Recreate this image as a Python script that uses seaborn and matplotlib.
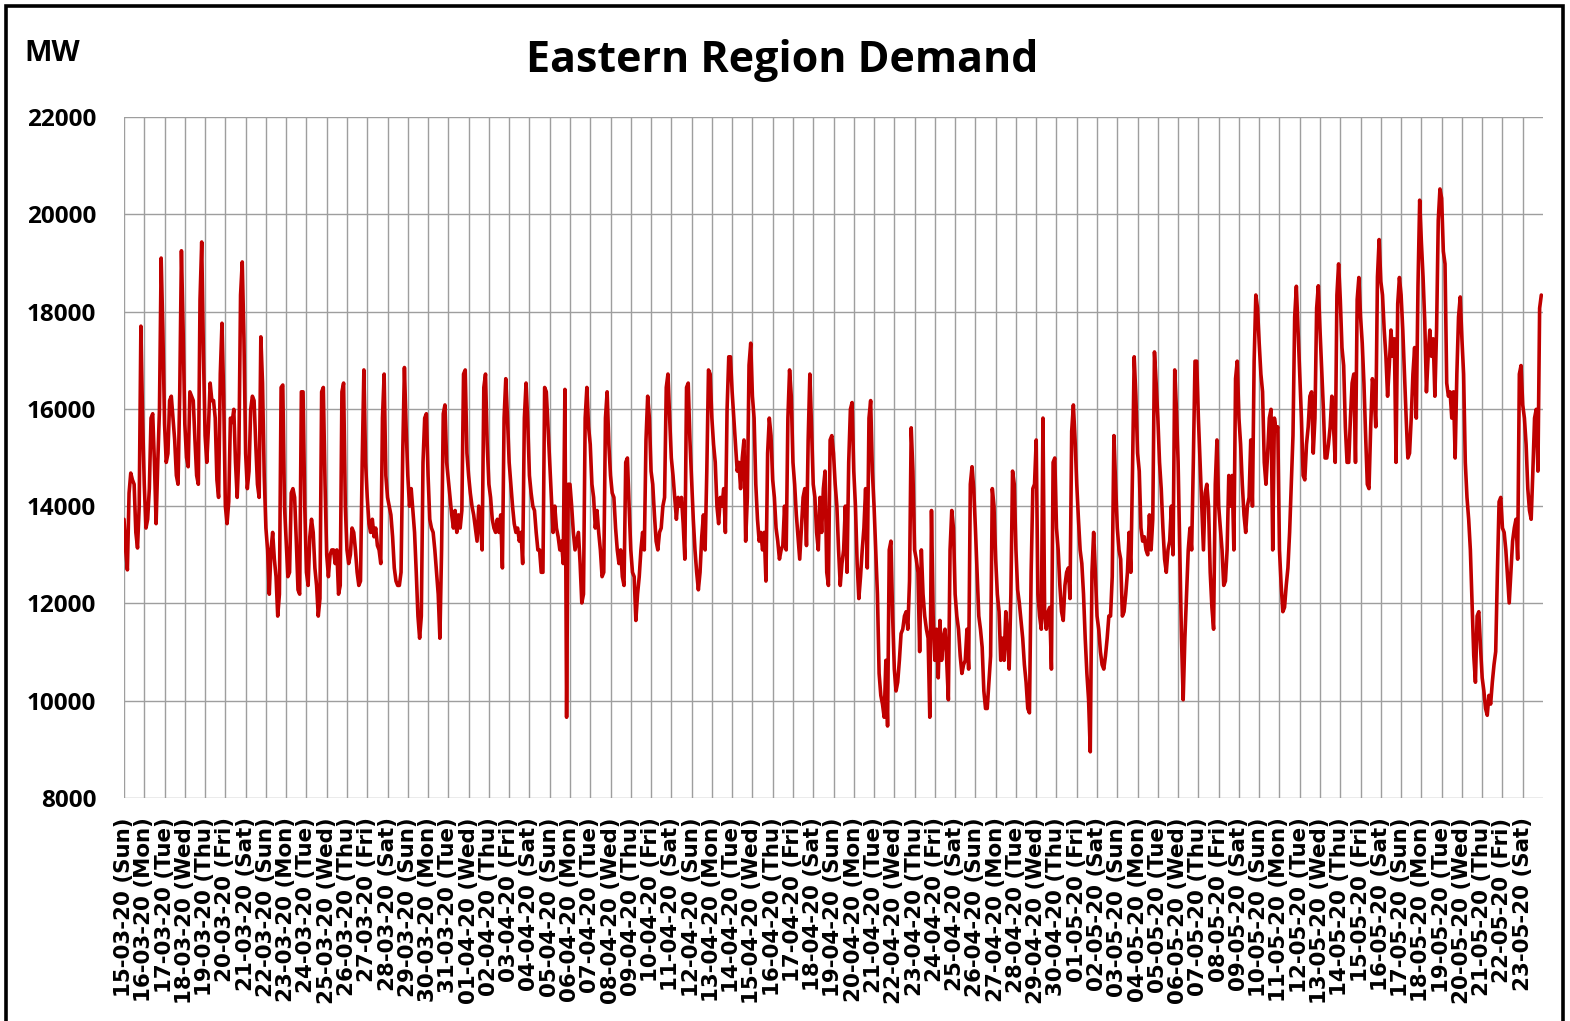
import numpy as np
import pandas as pd
import matplotlib
matplotlib.use("Agg")
import matplotlib.pyplot as plt
from matplotlib.patches import Rectangle
import seaborn as sns

# Eastern Region demand (MW), every 2 hours (12 readings per day)
# 15-03-20 .. 31-03-20
march_mw = [
    [13730, 13100, 12690, 14270, 14680, 14540, 14450, 13460, 13140, 14000, 17700, 15810],
    [14450, 13550, 13730, 14360, 15810, 15900, 14900, 13640, 14900, 15990, 19100, 17620],
    [15690, 14900, 15080, 16170, 16260, 15810, 15360, 14630, 14450, 16350, 19250, 17620],
    [15690, 15000, 14810, 16350, 16260, 16170, 15360, 14630, 14450, 18250, 19430, 17170],
    [15450, 14900, 15630, 16530, 16170, 16170, 15810, 14540, 14180, 16720, 17760, 16260],
    [14000, 13640, 14090, 15810, 15720, 15990, 14900, 14180, 15080, 18340, 19020, 17440],
    [15080, 14360, 14720, 15990, 16260, 16170, 15270, 14450, 14180, 17480, 16530, 14630],
    [13550, 13100, 12190, 13100, 13460, 12910, 12550, 11740, 12190, 16440, 16490, 14000],
    [13280, 12550, 12640, 14270, 14360, 14180, 13280, 12280, 12190, 16350, 16350, 14000],
    [12640, 12370, 13370, 13730, 13460, 12730, 12370, 11740, 12100, 16350, 16440, 14450],
    [13000, 12550, 13000, 13100, 13100, 12820, 13100, 12190, 12370, 16350, 16530, 14000],
    [13100, 12820, 13000, 13550, 13460, 13100, 12640, 12370, 12460, 14900, 16800, 14900],
    [14180, 13640, 13460, 13730, 13370, 13550, 13190, 13100, 12820, 15810, 16715, 14630],
    [14180, 14000, 13820, 13370, 12730, 12460, 12370, 12370, 12640, 15090, 16850, 15630],
    [14630, 14000, 14360, 13910, 13460, 12640, 11740, 11285, 11740, 14900, 15810, 15900],
    [14630, 13730, 13550, 13460, 13100, 12640, 12190, 11285, 13100, 15900, 16080, 14900],
    [14540, 14180, 13820, 13550, 13910, 13460, 13820, 13550, 13910, 16715, 16800, 15090],
]
# 01-04-20 .. 30-04-20
april_mw = [
    [14630, 14270, 14000, 13820, 13550, 13280, 14000, 13640, 13100, 16440, 16715, 15270],
    [14450, 14180, 13730, 13550, 13460, 13730, 13460, 13820, 12730, 15810, 16620, 15810],
    [14900, 14450, 14000, 13640, 13460, 13550, 13280, 13460, 12820, 15810, 16530, 15720],
    [14630, 14270, 14000, 13910, 13460, 13100, 13100, 12640, 12640, 16440, 16350, 15630],
    [14900, 14180, 13460, 14000, 13550, 13370, 13100, 13280, 12820, 16400, 9660, 14450],
    [14450, 14000, 13460, 13100, 13280, 13460, 12820, 12010, 12190, 15810, 16440, 15630],
    [15270, 14450, 14180, 13550, 13910, 13460, 13100, 12550, 12640, 15810, 16350, 15270],
    [14630, 14270, 14180, 13550, 13100, 12820, 13100, 12550, 12370, 14900, 14990, 14000],
    [13100, 12640, 12550, 11650, 12190, 12550, 13100, 13460, 13100, 15360, 16260, 15810],
    [14720, 14450, 13820, 13280, 13100, 13460, 13550, 14000, 14180, 16440, 16715, 15810],
    [14990, 14630, 14180, 13730, 14180, 14000, 14180, 13640, 12910, 16440, 16530, 15360],
    [14540, 13730, 13100, 12640, 12280, 12640, 13370, 13820, 13100, 14720, 16800, 16715],
    [15810, 15270, 14900, 14000, 13640, 14180, 14000, 14360, 13460, 15990, 17070, 17070],
    [16350, 15810, 15270, 14720, 14900, 14360, 14990, 15360, 13280, 14180, 16900, 17350],
    [16260, 15810, 14450, 13730, 13280, 13460, 13100, 13460, 12460, 15090, 15810, 15450],
    [14540, 14180, 13550, 13280, 12910, 13100, 13190, 14000, 13100, 15810, 16800, 16260],
    [14900, 14450, 13820, 13370, 12910, 13550, 14180, 14360, 13190, 15360, 16715, 15630],
    [14450, 14180, 13460, 13100, 14180, 13460, 14360, 14720, 12640, 12370, 15360, 15450],
    [15090, 14450, 14000, 13100, 12370, 12820, 13100, 14000, 12640, 14900, 15990, 16130],
    [14720, 14000, 12820, 12100, 12550, 13100, 13550, 14360, 12730, 15810, 16170, 14720],
    [14000, 13100, 12190, 10560, 10110, 9930, 9660, 10830, 9480, 13100, 13280, 11740],
    [10650, 10200, 10380, 10830, 11380, 11470, 11740, 11830, 11470, 12460, 15610, 14720],
    [13100, 12910, 12640, 11010, 13100, 12190, 11740, 11470, 11285, 9660, 13910, 11740],
    [10830, 11470, 10470, 11650, 10830, 11285, 11470, 10830, 10020, 13100, 13910, 13550],
    [12190, 11740, 11470, 10920, 10560, 10740, 10830, 11470, 10650, 14450, 14810, 14360],
    [13550, 12640, 11740, 11470, 11100, 10200, 9840, 9840, 10380, 10920, 14360, 14000],
    [12910, 12190, 11830, 10830, 11285, 10830, 11830, 11285, 10650, 12190, 14720, 14450],
    [13100, 12280, 12010, 11650, 11285, 10740, 10380, 9840, 9750, 12640, 14360, 14450],
    [15360, 12190, 11740, 11470, 15810, 11740, 11470, 11830, 11920, 10650, 14900, 14990],
    [13550, 13100, 12370, 11830, 11650, 12370, 12640, 12730, 12100, 15540, 16080, 15360],
]
# 01-05-20 .. 23-05-20
may_mw = [
    [14450, 13730, 13100, 12820, 12190, 11285, 10560, 10020, 8950, 12640, 13460, 12640],
    [11740, 11470, 11010, 10740, 10650, 10920, 11285, 11740, 11740, 12550, 15450, 14450],
    [13550, 13100, 12910, 11740, 11830, 12190, 12640, 13460, 12640, 14720, 17070, 16260],
    [15090, 14720, 13550, 13280, 13370, 13100, 13000, 13820, 13100, 13730, 17170, 16530],
    [15810, 14900, 14360, 13550, 12910, 12640, 13100, 13280, 14000, 13000, 16800, 15990],
    [14900, 13100, 11285, 10020, 11285, 12190, 13100, 13550, 13100, 14900, 16980, 16980],
    [15810, 14900, 14000, 13100, 14270, 14450, 14000, 12640, 11920, 11470, 14450, 15360],
    [14000, 13550, 13100, 12370, 12460, 13100, 14630, 14000, 14630, 13100, 16620, 16980],
    [15810, 15270, 14450, 13820, 13460, 14000, 14180, 15360, 14000, 16980, 18340, 18070],
    [17350, 16715, 16350, 14900, 14450, 15090, 15810, 15990, 13100, 15810, 15540, 15630],
    [13100, 12370, 11830, 11920, 12370, 12730, 13460, 14450, 15450, 17890, 18520, 17620],
    [16715, 15810, 14630, 14540, 15270, 15630, 16260, 16350, 15090, 15810, 18070, 18530],
    [17620, 16800, 15990, 14990, 14990, 15270, 15630, 16260, 15630, 14900, 18340, 18980],
    [18250, 17260, 16890, 15630, 14900, 14900, 15810, 16530, 16715, 14900, 18250, 18700],
    [17890, 17350, 16530, 15450, 14450, 14360, 15630, 16620, 16350, 15630, 18710, 19480],
    [18620, 18340, 17620, 17080, 16260, 16890, 17620, 17080, 17440, 14900, 18160, 18700],
    [18340, 17620, 16715, 15810, 14990, 15090, 15810, 16715, 17260, 15810, 18530, 20290],
    [19430, 18710, 17800, 16350, 17080, 17620, 17080, 17440, 16260, 17620, 19880, 20520],
    [20330, 19240, 18980, 16530, 16260, 16350, 15810, 16350, 14990, 16715, 17890, 18300],
    [17440, 16715, 14900, 14180, 13730, 13100, 12010, 10930, 10380, 11740, 11830, 11100],
    [10470, 10200, 9840, 9700, 10110, 9930, 10380, 10740, 11010, 12640, 14090, 14180],
    [13550, 13460, 13100, 12550, 12010, 12640, 13280, 13550, 13730, 12910, 16715, 16890],
    [16080, 15810, 15270, 14360, 13910, 13730, 14720, 15810, 15990, 14720, 18070, 18340],
]

start_date = "2020-03-15"
y_ticks = [8000, 10000, 12000, 14000, 16000, 18000, 20000, 22000]

mw = np.concatenate([np.ravel(march_mw), np.ravel(april_mw), np.ravel(may_mw)])
n_days = len(march_mw) + len(april_mw) + len(may_mw)
t = np.arange(len(mw)) / 12.0          # time in days since 15-03-20 00:00
df = pd.DataFrame({"day": t, "MW": mw})

dates = pd.date_range(start_date, periods=n_days, freq="D")
day_labels = [d.strftime("%d-%m-%y") + " (" + d.strftime("%a") + ")" for d in dates]

sns.set_style("white")
plt.rcParams["font.family"] = ["Open Sans", "DejaVu Sans"]
plt.rcParams["text.color"] = "black"

fig = plt.figure(figsize=(15.7, 10.21), dpi=100)
ax = fig.add_axes([124 / 1570, 1 - 798 / 1021, (1543 - 124) / 1570, (798 - 117) / 1021])

sns.lineplot(data=df, x="day", y="MW", ax=ax, color="#C00000", lw=2.6, estimator=None)

ax.set_xlim(0, n_days)
ax.set_ylim(8000, 22000)
ax.set_xticks(np.arange(n_days))
ax.set_xticklabels(day_labels, rotation=90, fontsize=15.4, fontweight="bold",
                   family="DejaVu Sans")
ax.set_yticks(y_ticks)
ax.set_yticklabels([str(v) for v in y_ticks], fontsize=17.5, fontweight="bold")
ax.set_xlabel("")
ax.set_ylabel("")

grid_c = "#9E9E9E"
ax.grid(True, color=grid_c, lw=1.0)
ax.set_axisbelow(True)
for s in ax.spines.values():
    s.set_visible(False)
ax.tick_params(axis="x", direction="out", length=7, width=1, color=grid_c, pad=7,
               labelcolor="black")
ax.tick_params(axis="y", direction="out", length=7, width=1, color=grid_c, pad=13,
               labelcolor="black")

fig.text(782 / 1570, 1 - 71.5 / 1021, "Eastern Region Demand", ha="center",
         va="baseline", fontsize=31, fontweight="bold", color="black")
fig.text(24 / 1570, 1 - 61 / 1021, "MW", ha="left", va="baseline",
         fontsize=21, fontweight="bold", color="black")

# black frame round the whole picture (bottom edge falls outside)
fig.patches.append(Rectangle((6 / 1570, -0.02), 1557 / 1570, 1.02 - 6 / 1021,
                             transform=fig.transFigure, fill=False, lw=2.6,
                             ec="black"))

fig.savefig("out.png", dpi=100)
